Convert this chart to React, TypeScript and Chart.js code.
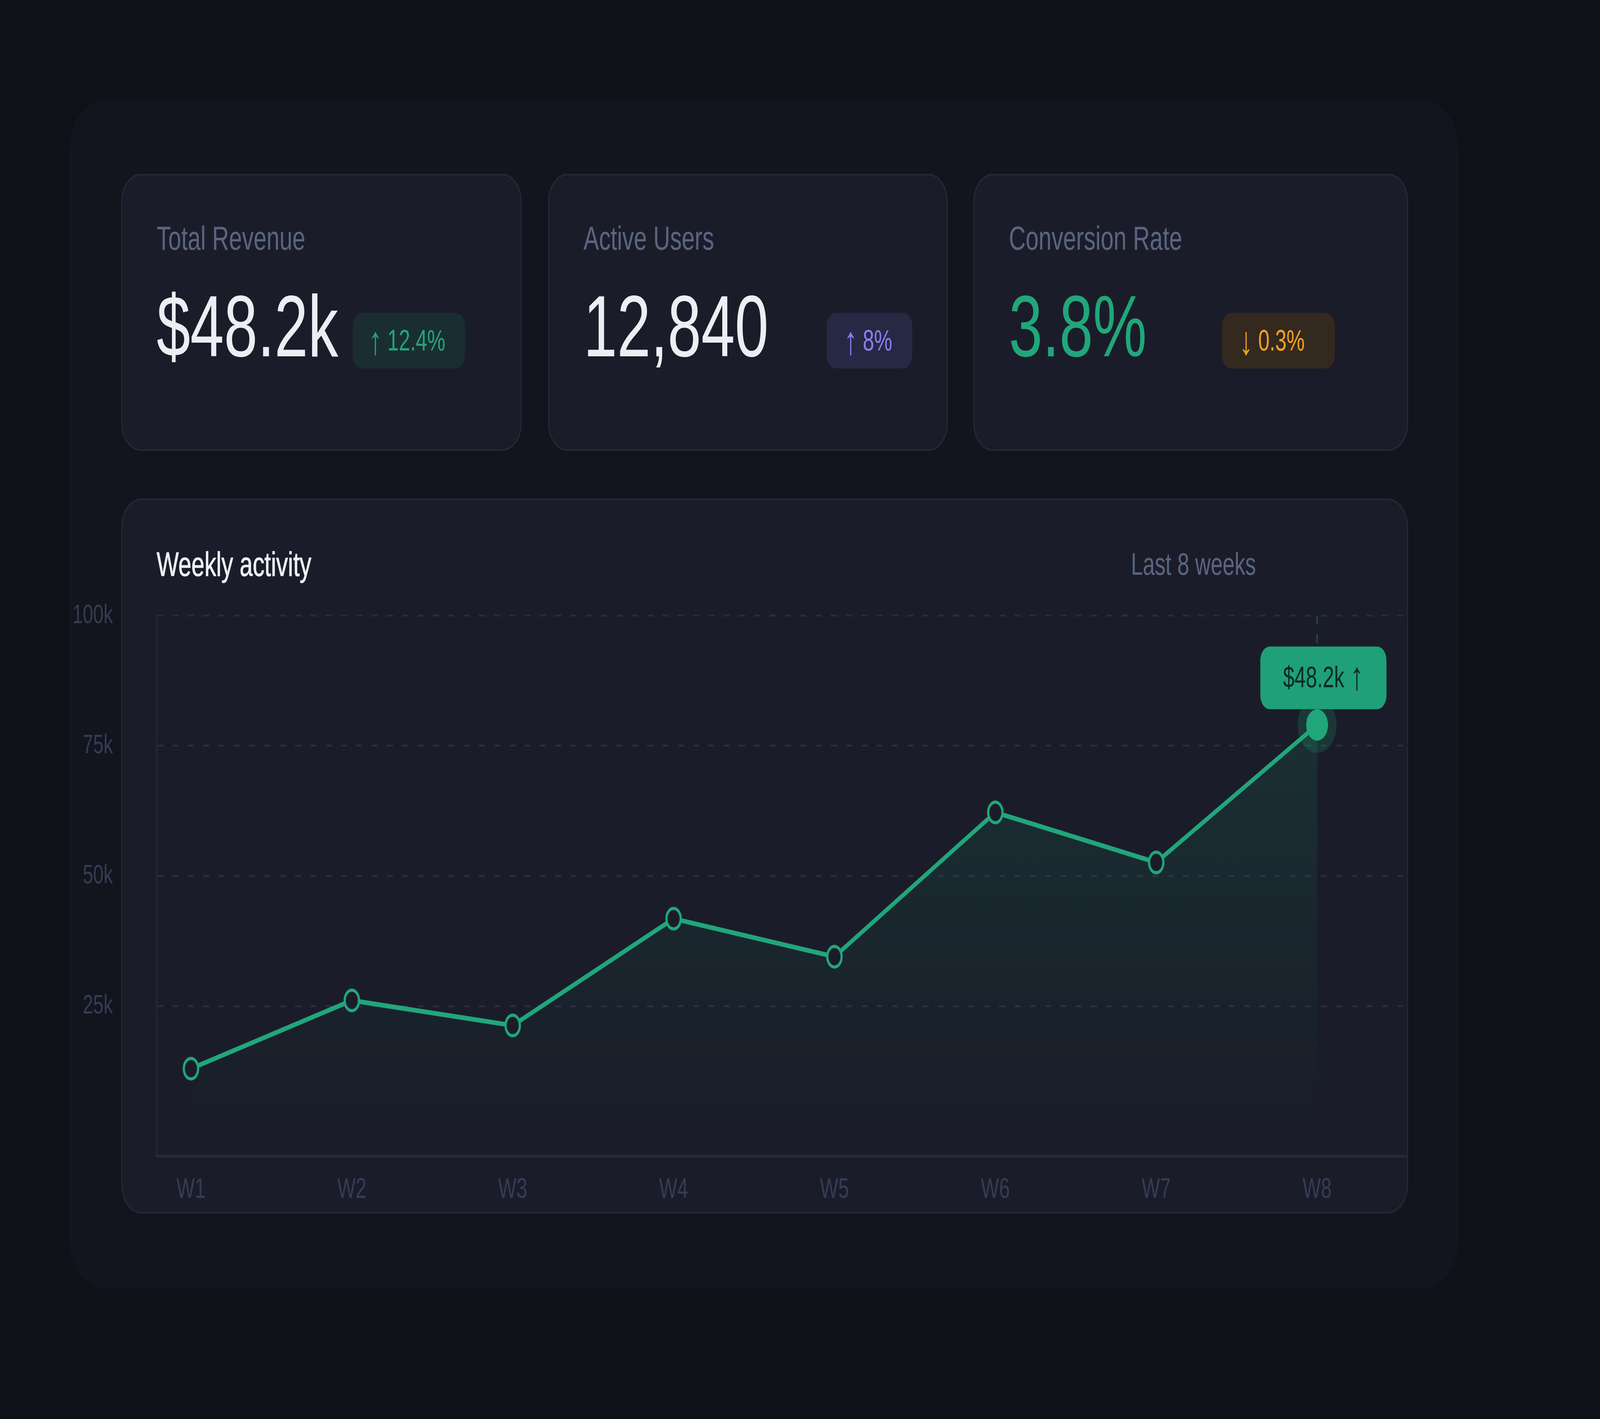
import { useEffect, useRef } from "react";
import { Chart, registerables } from "chart.js";

Chart.register(...registerables);

// the reference is 5888x3632; positions below were read on a 1568px-wide copy of it
const PAGE_W = 5888;
const PAGE_H = 3632;
const K = PAGE_W / 1568;
const u = (v: number) => v * K;

const FONT = "'Liberation Sans', Arial, Helvetica, sans-serif";

const weeks = ["W1", "W2", "W3", "W4", "W5", "W6", "W7", "W8"];
const activity = [13.0, 26.1, 21.3, 41.8, 34.5, 62.2, 52.6, 79.0]; // thousands
const yTicks = [25, 50, 75, 100];
const yMin = -3.8;
const yMax = 100;
const xMin = -0.2125;
const xMax = 7.566;
const tooltipText = "$48.2k";
const tooltipArrow = "\u2191";

const statLabels = ["Total Revenue", "Active Users", "Conversion Rate"];
const statValues = ["$48.2k", "12,840", "3.8%"];
const statArrows = ["\u2191", "\u2191", "\u2193"];
const statChanges = ["12.4%", "8%", "0.3%"];

const GREEN = "#21a67a";
const PAGE_BG = "#0e1118";
const PANEL_BG = "#12151d";
const CARD_BG = "#1a1d29";
const CARD_BORDER = "#242938";
const MUTED = "#5b6481";
const TICK = "#353c56";

const cardBoxes = [
  { left: 118.8, width: 392.5 },
  { left: 537.1, width: 391.7 },
  { left: 954.0, width: 426.0 },
];
const badgeBoxes = [
  { left: 345.7, width: 110, bg: "#1a2e31", color: GREEN },
  { left: 810.0, width: 84, bg: "#272843", color: "#8b7ef0" },
  { left: 1197.5, width: 110.5, bg: "#33291f", color: "#f2a21f" },
];
const valueColors = ["#eceef3", "#eceef3", GREEN];

const last = activity.length - 1;

const highlight = {
  id: "highlight",
  beforeDatasetsDraw(chart: any) {
    const pt = chart.getDatasetMeta(0).data[last];
    if (!pt) return;
    const { ctx, chartArea } = chart;
    ctx.save();
    ctx.strokeStyle = "rgba(33,166,122,0.45)";
    ctx.lineWidth = u(1.1);
    ctx.setLineDash([u(5.9), u(6.9)]);
    ctx.beginPath();
    ctx.moveTo(pt.x, chartArea.top);
    ctx.lineTo(pt.x, pt.y);
    ctx.stroke();
    ctx.setLineDash([]);
    ctx.fillStyle = "rgba(33,166,122,0.2)";
    ctx.beginPath();
    ctx.arc(pt.x, pt.y, u(19), 0, Math.PI * 2);
    ctx.fill();
    ctx.restore();
  },
  afterDatasetsDraw(chart: any) {
    const pt = chart.getDatasetMeta(0).data[last];
    if (!pt) return;
    const { ctx } = chart;
    const w = u(123.7);
    const h = u(42.8);
    const cx = pt.x + u(6.2);
    const bottom = pt.y - u(10.7);
    const mid = bottom - h / 2 + u(1);
    ctx.save();
    ctx.fillStyle = "#1fa078";
    ctx.beginPath();
    ctx.roundRect(cx - w / 2, bottom - h, w, h, u(9.5));
    ctx.fill();

    ctx.fillStyle = "#0c2a21";
    ctx.textBaseline = "middle";
    ctx.textAlign = "left";
    const textFont = `${u(20)}px ${FONT}`;
    const arrowFont = `${u(27)}px ${FONT}`;
    ctx.font = textFont;
    const tw = ctx.measureText(tooltipText + " ").width;
    ctx.font = arrowFont;
    const aw = ctx.measureText(tooltipArrow).width;
    const x0 = cx - (tw + aw) / 2;
    ctx.font = textFont;
    ctx.fillText(tooltipText, x0, mid);
    ctx.font = arrowFont;
    ctx.fillText(tooltipArrow, x0 + tw, mid - u(0.5));
    ctx.restore();
  },
};

function ActivityChart() {
  const canvasRef = useRef<HTMLCanvasElement | null>(null);

  useEffect(() => {
    const ctx = canvasRef.current?.getContext("2d");
    if (!ctx) return;

    const chart = new Chart(ctx, {
      type: "line",
      data: {
        datasets: [
          {
            data: activity.map((v, i) => ({ x: i, y: v })),
            borderColor: GREEN,
            borderWidth: u(3.2),
            tension: 0,
            fill: "origin",
            backgroundColor: (c: any) => {
              const { chart: ch } = c;
              const area = ch.chartArea;
              if (!area) return "rgba(33,166,122,0.1)";
              const y0 = ch.scales.y.getPixelForValue(0);
              const g = ch.ctx.createLinearGradient(0, area.top, 0, y0);
              g.addColorStop(0, "rgba(33,166,122,0.18)");
              g.addColorStop(1, "rgba(33,166,122,0)");
              return g;
            },
            pointRadius: activity.map((_, i) => (i === last ? u(10.7) : u(7))),
            pointBorderWidth: activity.map((_, i) => (i === last ? 0 : u(2.2))),
            pointBackgroundColor: activity.map((_, i) => (i === last ? GREEN : CARD_BG)),
            pointBorderColor: GREEN,
          },
        ],
      },
      options: {
        animation: false,
        responsive: false,
        devicePixelRatio: 1,
        layout: { padding: { top: u(19.6), right: u(12), left: 0, bottom: 0 } },
        plugins: { legend: { display: false }, tooltip: { enabled: false } },
        scales: {
          x: {
            type: "linear",
            min: xMin,
            max: xMax,
            bounds: "data",
            afterBuildTicks: (scale: any) => {
              scale.ticks = weeks.map((_, i) => ({ value: i }));
            },
            afterFit: (scale: any) => {
              scale.height = u(38);
            },
            grid: { display: false, drawTicks: false },
            border: { display: true, color: "#252a3a", width: u(1.75) },
            ticks: {
              autoSkip: false,
              maxRotation: 0,
              padding: u(11.7),
              color: TICK,
              font: { family: FONT, size: u(19) },
              callback: (value: any) => weeks[Math.round(Number(value))] ?? "",
            },
          },
          y: {
            min: yMin,
            max: yMax,
            bounds: "data",
            afterBuildTicks: (scale: any) => {
              scale.ticks = yTicks.map((v) => ({ value: v }));
            },
            afterFit: (scale: any) => {
              scale.width = u(93.7);
            },
            // invisible tick marks give the labels their gap from the axis
            grid: {
              color: "#272c3e",
              lineWidth: u(1.35),
              drawTicks: true,
              tickLength: u(43),
              tickColor: "rgba(0,0,0,0)",
            },
            border: { display: true, color: "#232838", width: u(1.3), dash: [u(6), u(9)] },
            ticks: {
              padding: 0,
              color: TICK,
              font: { family: FONT, size: u(18.3) },
              callback: (value: any) => `${value}k`,
            },
          },
        },
      },
      plugins: [highlight],
    } as any);

    return () => {
      chart.destroy();
    };
  }, []);

  const w = Math.round(u(1332));
  const h = Math.round(u(426));
  return (
    <canvas
      ref={canvasRef}
      width={w}
      height={h}
      style={{ position: "absolute", left: u(60), top: u(400), width: w, height: h }}
    />
  );
}

const abs = (left: number, top: number, extra: React.CSSProperties = {}): React.CSSProperties => ({
  position: "absolute",
  left: u(left),
  top: u(top),
  whiteSpace: "nowrap",
  lineHeight: 1,
  fontFamily: FONT,
  ...extra,
});

export default function App() {
  // the page is laid out at the reference size and fitted to the actual window
  const sx = window.innerWidth / PAGE_W;
  const sy = window.innerHeight / PAGE_H;

  return (
    <div style={{ position: "fixed", inset: 0, background: PAGE_BG, overflow: "hidden" }}>
      <div
        style={{
          position: "absolute",
          left: 0,
          top: 0,
          width: PAGE_W,
          height: PAGE_H,
          transform: `scale(${sx}, ${sy})`,
          transformOrigin: "0 0",
        }}
      >
        <div
          style={abs(67.5, 68.4, {
            width: u(1362.5),
            height: u(809.6),
            borderRadius: u(35),
            background: PANEL_BG,
          })}
        />

        {cardBoxes.map((box, i) => (
          <div
            key={`card-${i}`}
            style={abs(box.left, 118.5, {
              width: u(box.width),
              height: u(188.8),
              boxSizing: "border-box",
              borderRadius: u(19),
              background: CARD_BG,
              border: `${u(1.2)}px solid ${CARD_BORDER}`,
            })}
          />
        ))}

        {statLabels.map((label, i) => (
          <div key={`label-${i}`} style={abs(cardBoxes[i].left + 34.7, 151.1, { fontSize: u(22.8), color: MUTED })}>
            {label}
          </div>
        ))}

        {statValues.map((value, i) => (
          <div
            key={`value-${i}`}
            style={abs(cardBoxes[i].left + 34.7, 192.9, { fontSize: u(59.3), color: valueColors[i] })}
          >
            {value}
          </div>
        ))}

        {statChanges.map((change, i) => (
          <div
            key={`delta-${i}`}
            style={abs(badgeBoxes[i].left, 213.2, {
              width: u(badgeBoxes[i].width),
              height: u(38),
              boxSizing: "border-box",
              paddingLeft: u(i === 0 ? 15.5 : 17),
              borderRadius: u(9),
              background: badgeBoxes[i].bg,
              color: badgeBoxes[i].color,
              fontSize: u(20),
              display: "flex",
              alignItems: "center",
              justifyContent: "flex-start",
            })}
          >
            <span style={{ fontSize: "1.35em", lineHeight: 1, marginRight: u(5) }}>{statArrows[i]}</span>
            <span>{change}</span>
          </div>
        ))}

        <div
          style={abs(118.8, 339.8, {
            width: u(1261.2),
            height: u(487.3),
            boxSizing: "border-box",
            borderRadius: u(20),
            background: CARD_BG,
            border: `${u(1.2)}px solid ${CARD_BORDER}`,
          })}
        />
        <div
          style={abs(153.5, 373, {
            fontSize: u(23),
            color: "#eef0f4",
            WebkitTextStroke: `${u(0.3)}px #eef0f4`,
          })}
        >
          Weekly activity
        </div>
        <div style={abs(1108.3, 374.2, { fontSize: u(21), color: MUTED })}>Last 8 weeks</div>

        <ActivityChart />
      </div>
    </div>
  );
}
